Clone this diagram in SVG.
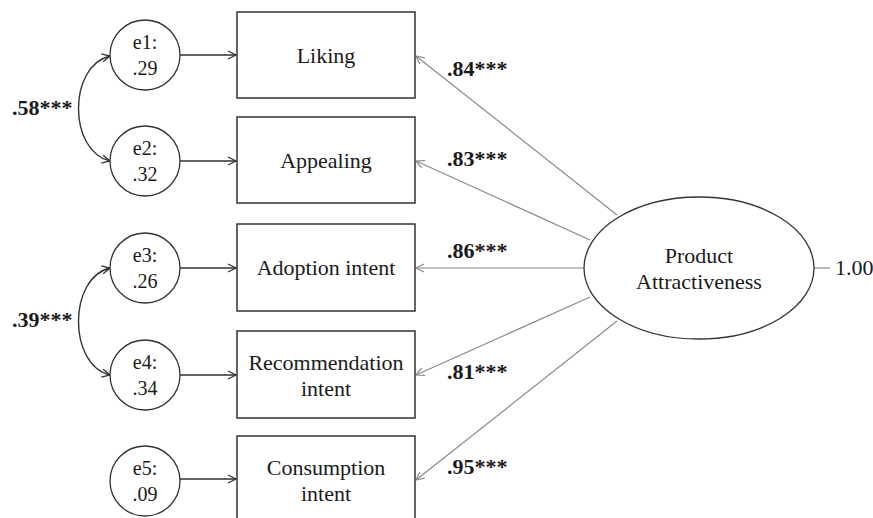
<svg xmlns="http://www.w3.org/2000/svg" width="873" height="518" viewBox="0 0 873 518">
<style>
.t{font-family:"Liberation Serif","Times New Roman",serif;font-size:22px;fill:#1a1a1a;text-anchor:middle}
.c{font-size:20px}
.b{font-family:"Liberation Serif","Times New Roman",serif;font-size:22px;font-weight:bold;fill:#1a1a1a}
.box{fill:#fff;stroke:#333;stroke-width:1.5}
.err{fill:#fff;stroke:#333;stroke-width:1.3}
.dk{fill:none;stroke:#333;stroke-width:1.4}
.gr{fill:none;stroke:#8a8a8a;stroke-width:1.2}
</style>
<defs>
<marker id="ad" markerUnits="userSpaceOnUse" markerWidth="12" markerHeight="12" refX="9" refY="5" orient="auto-start-reverse"><path d="M1,1 L9,5 L1,9" fill="none" stroke="#333" stroke-width="1.3"/></marker>
<marker id="ag" markerUnits="userSpaceOnUse" markerWidth="12" markerHeight="12" refX="9" refY="5" orient="auto"><path d="M1,1 L9,5 L1,9" fill="none" stroke="#8a8a8a" stroke-width="1.2"/></marker>
</defs>
<rect width="873" height="518" fill="#fff"/>
<g id="connectors">
<line class="dk" x1="180" y1="55" x2="236" y2="55" marker-end="url(#ad)"/>
<line class="dk" x1="180" y1="161" x2="236" y2="161" marker-end="url(#ad)"/>
<line class="dk" x1="180" y1="268" x2="236" y2="268" marker-end="url(#ad)"/>
<line class="dk" x1="180" y1="375" x2="236" y2="375" marker-end="url(#ad)"/>
<line class="dk" x1="180" y1="479" x2="236" y2="479" marker-end="url(#ad)"/>
<path class="dk" d="M110,56 C68,66 68,151 110,161" marker-start="url(#ad)" marker-end="url(#ad)"/>
<path class="dk" d="M110,268 C68,278 68,365 110,375" marker-start="url(#ad)" marker-end="url(#ad)"/>
<line class="gr" x1="617" y1="215" x2="416" y2="56" marker-end="url(#ag)"/>
<line class="gr" x1="590" y1="240" x2="416" y2="161" marker-end="url(#ag)"/>
<line class="gr" x1="584" y1="268" x2="416" y2="268" marker-end="url(#ag)"/>
<line class="gr" x1="590" y1="297" x2="416" y2="375" marker-end="url(#ag)"/>
<line class="gr" x1="617" y1="321" x2="416" y2="480" marker-end="url(#ag)"/>
<line class="gr" x1="814" y1="268" x2="830" y2="268"/>
<text class="b" x="12" y="115">.58***</text>
<text class="b" x="12" y="327">.39***</text>
<text class="b" x="447" y="76">.84***</text>
<text class="b" x="447" y="166">.83***</text>
<text class="b" x="447" y="258">.86***</text>
<text class="b" x="447" y="379">.81***</text>
<text class="b" x="447" y="474">.95***</text>
</g>
<g id="e1"><circle class="err" cx="145" cy="55" r="35"/><text class="t c" x="145" y="49">e1:</text><text class="t c" x="145" y="75">.29</text></g>
<g id="e2"><circle class="err" cx="145" cy="161" r="35"/><text class="t c" x="145" y="155">e2:</text><text class="t c" x="145" y="181">.32</text></g>
<g id="e3"><circle class="err" cx="145" cy="268" r="35"/><text class="t c" x="145" y="262">e3:</text><text class="t c" x="145" y="288">.26</text></g>
<g id="e4"><circle class="err" cx="145" cy="375" r="35"/><text class="t c" x="145" y="369">e4:</text><text class="t c" x="145" y="395">.34</text></g>
<g id="e5"><circle class="err" cx="145" cy="481" r="35"/><text class="t c" x="145" y="475">e5:</text><text class="t c" x="145" y="501">.09</text></g>
<g id="liking"><rect class="box" x="237" y="12" width="178" height="86"/><text class="t" x="326" y="63">Liking</text></g>
<g id="appealing"><rect class="box" x="237" y="117" width="178" height="86"/><text class="t" x="326" y="168">Appealing</text></g>
<g id="adoption"><rect class="box" x="237" y="224" width="178" height="87"/><text class="t" x="326" y="275">Adoption intent</text></g>
<g id="recommendation"><rect class="box" x="237" y="331" width="178" height="87"/><text class="t" x="326" y="370">Recommendation</text><text class="t" x="326" y="396">intent</text></g>
<g id="consumption"><rect class="box" x="237" y="436" width="178" height="90"/><text class="t" x="326" y="475">Consumption</text><text class="t" x="326" y="501">intent</text></g>
<g id="product"><ellipse class="err" cx="699" cy="268" rx="115" ry="71"/><text class="t" x="699" y="263">Product</text><text class="t" x="699" y="289">Attractiveness</text></g>
<g id="variance"><text class="t" x="835" y="275" style="text-anchor:start">1.00</text></g>
</svg>
